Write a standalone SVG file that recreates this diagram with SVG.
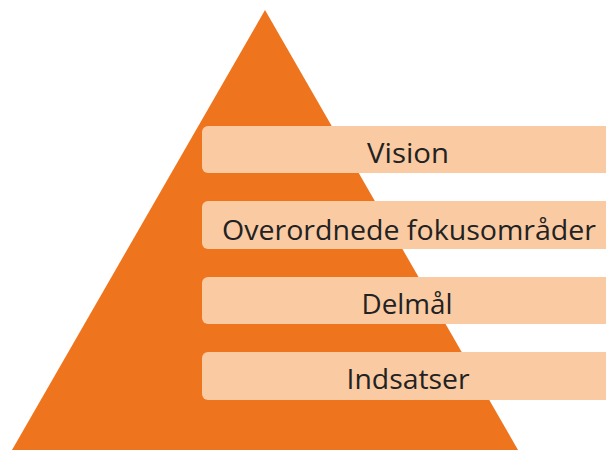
<svg xmlns="http://www.w3.org/2000/svg" width="606" height="450" viewBox="0 0 606 450">
<style>
.band{fill:#FACBA3;}
.lbl{font-family:"Open Sans","Noto Sans",sans-serif;font-size:28px;fill:#222;text-anchor:middle;}
</style>
<rect width="606" height="450" fill="#fff"/>
<polygon id="pyramid" points="265,10 518,450 12,450" fill="#EE741D"/>
<g id="vision"><rect class="band" x="202" y="126" width="420" height="47" rx="6"/><text class="lbl" x="408" y="163" textLength="82" lengthAdjust="spacingAndGlyphs">Vision</text></g>
<g id="fokus"><rect class="band" x="202" y="201" width="420" height="48" rx="6"/><text class="lbl" x="409" y="240" textLength="374" lengthAdjust="spacingAndGlyphs">Overordnede fokusområder</text></g>
<g id="delmaal"><rect class="band" x="202" y="277" width="420" height="47" rx="6"/><text class="lbl" x="407" y="314" textLength="91" lengthAdjust="spacingAndGlyphs">Delmål</text></g>
<g id="indsatser"><rect class="band" x="202" y="352" width="420" height="48" rx="6"/><text class="lbl" x="408" y="389" textLength="123" lengthAdjust="spacingAndGlyphs">Indsatser</text></g>
<g id="connectors"/>
</svg>
